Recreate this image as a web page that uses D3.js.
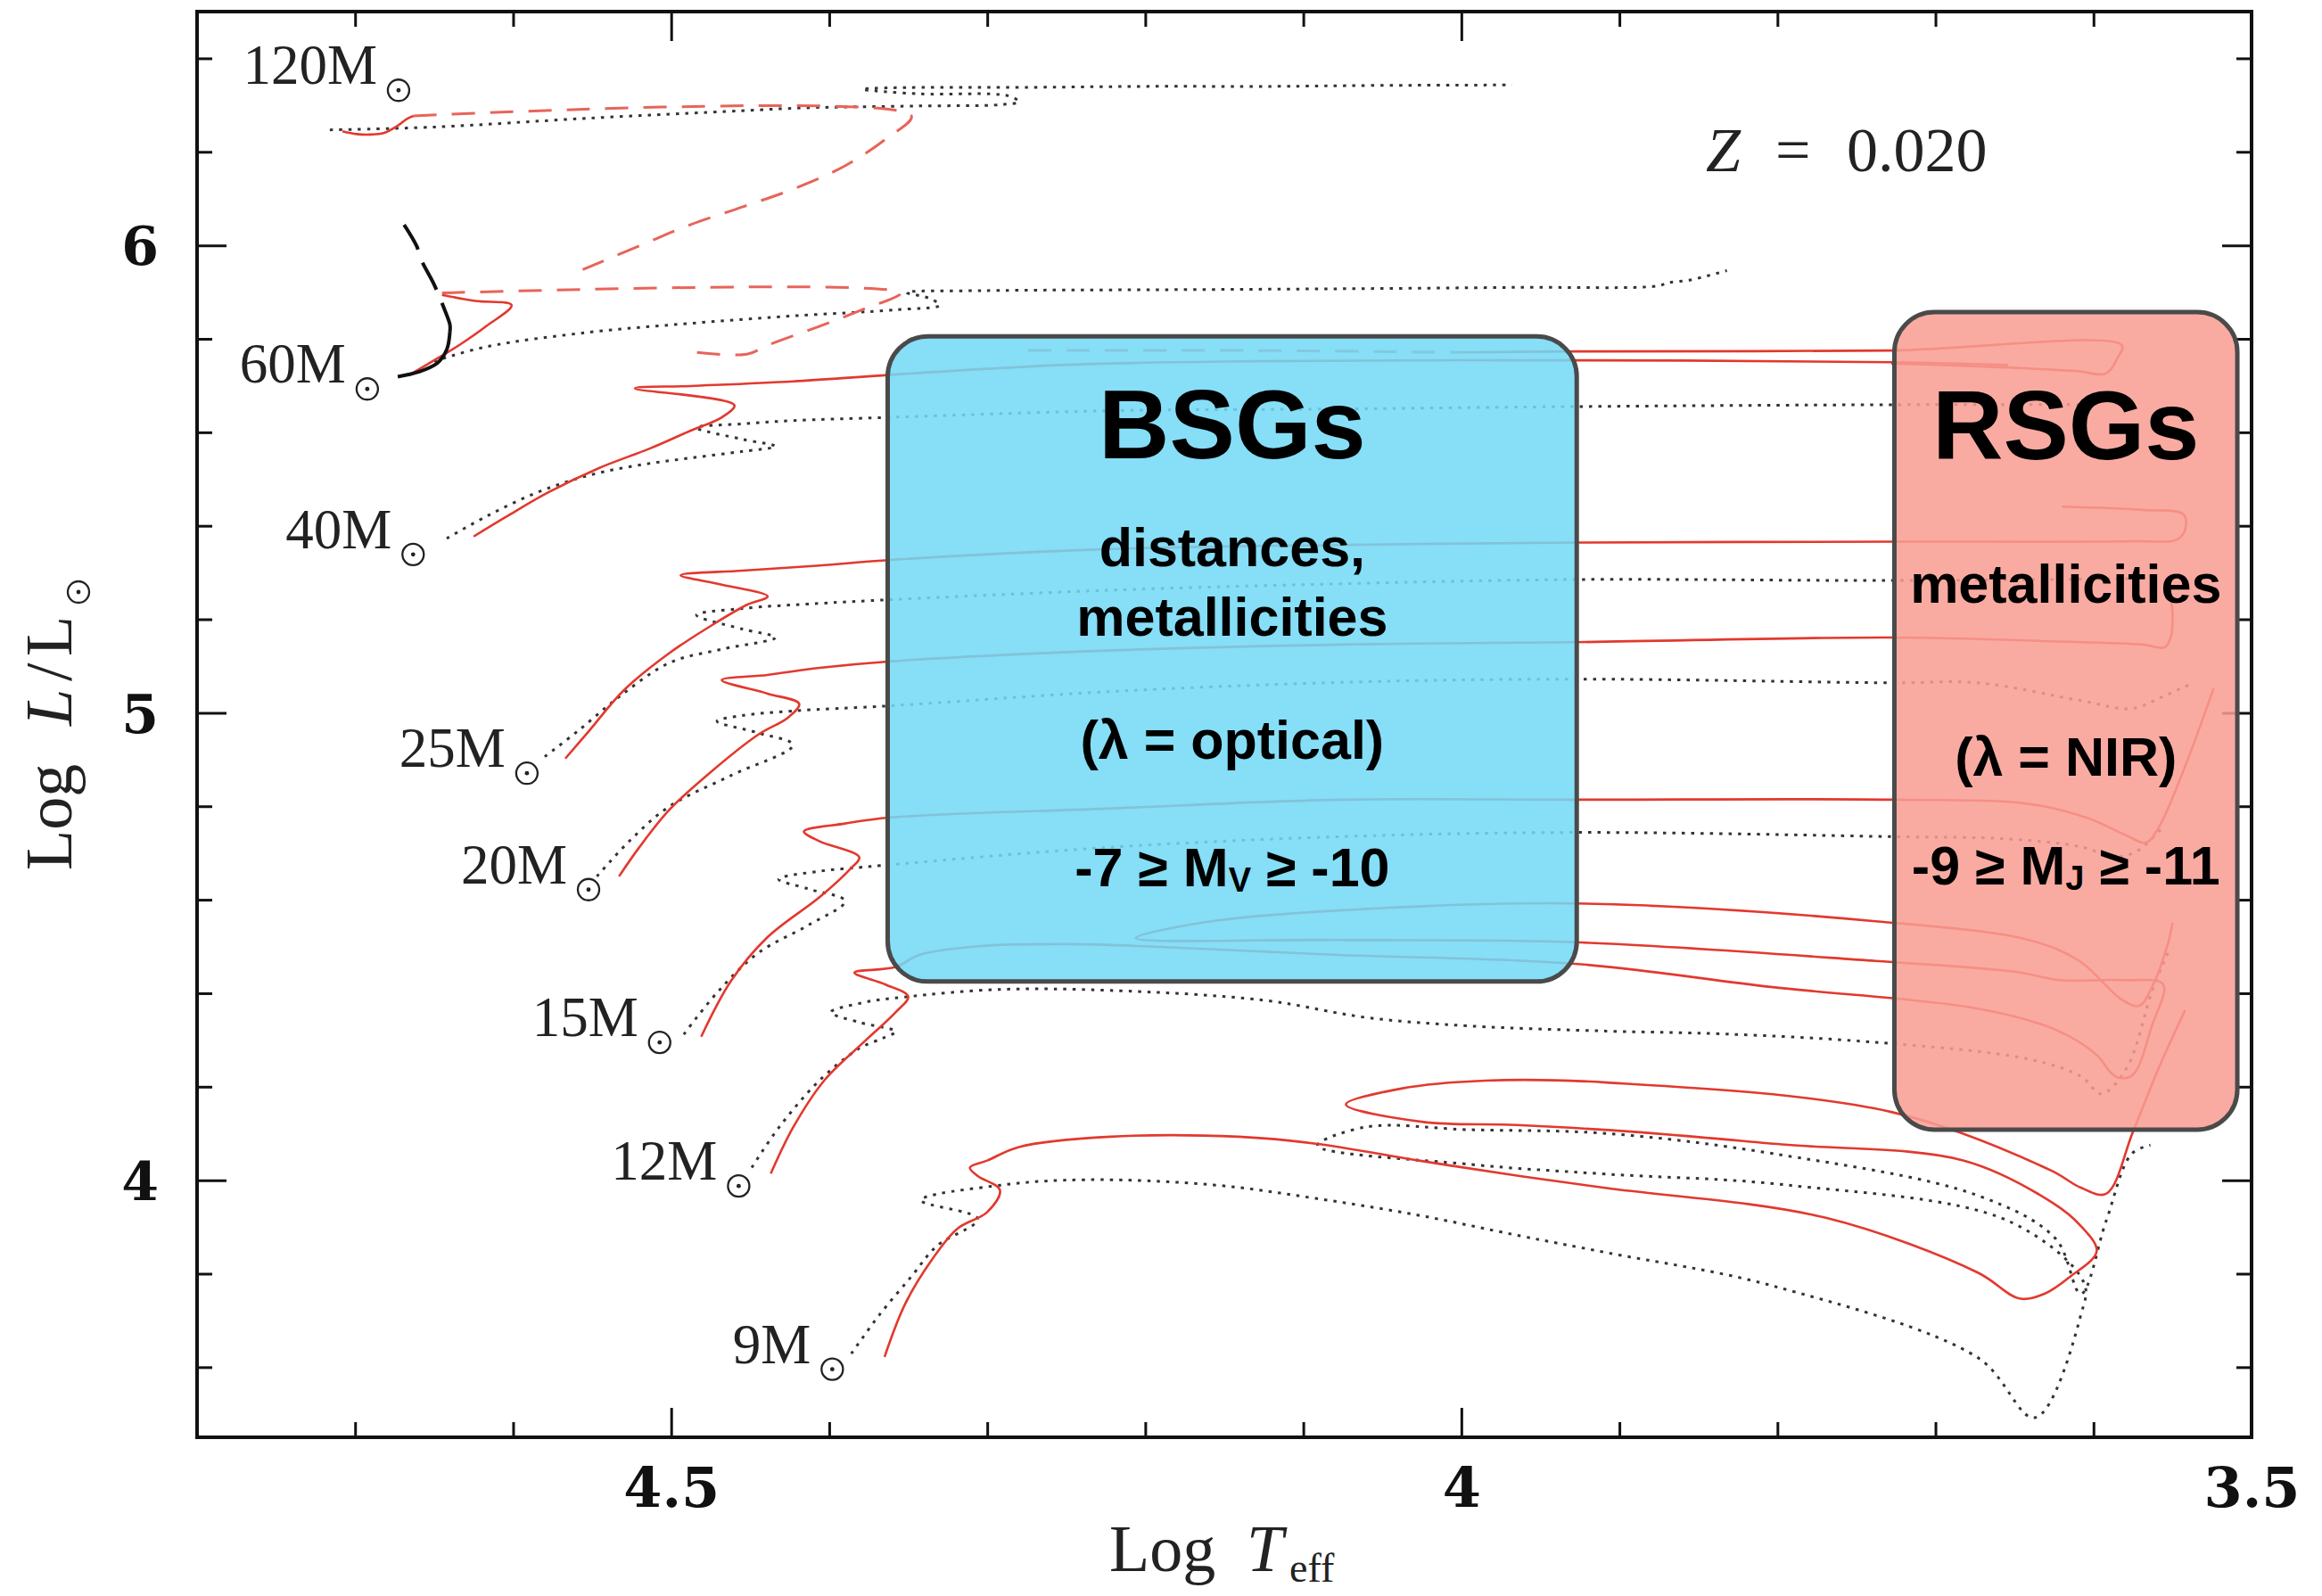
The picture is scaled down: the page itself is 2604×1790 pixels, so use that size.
<!DOCTYPE html>
<html>
<head>
<meta charset="utf-8">
<title>Evolutionary tracks of massive stars, Z = 0.020</title>
<script src="https://cdn.jsdelivr.net/npm/d3@7/dist/d3.min.js"></script>
<style>
  html, body { margin: 0; padding: 0; background: #ffffff; }
  svg { display: block; }
</style>
</head>
<body>
<svg id="hrd" width="2604" height="1790"></svg>
<script>
// ---------------- axis ticks ----------------
const xMajorTicks = [4.5, 4.0, 3.5];
const xMinorTicks = [4.7, 4.6, 4.4, 4.3, 4.2, 4.1, 3.9, 3.8, 3.7, 3.6];
const yMajorTicks = [4, 5, 6];
const yMinorTicks = [3.6, 3.8, 4.2, 4.4, 4.6, 4.8, 5.2, 5.4, 5.6, 5.8, 6.2, 6.4];

// ---------------- tracks: [log Teff, log L/Lsun] ----------------
// 120 Msun
const track120Zams = [[4.708,6.244],[4.699,6.238],[4.690,6.237],[4.682,6.240],[4.673,6.256],[4.667,6.271],[4.663,6.277]];
const track120Dashed = [[4.663,6.277],[4.348,6.277],[4.364,6.228],[4.390,6.170],[4.423,6.120],[4.455,6.082],[4.488,6.044],[4.520,5.999],[4.556,5.948]];
const track120Dotted = [[4.716,6.247],[4.650,6.253],[4.552,6.272],[4.455,6.288],[4.416,6.294],[4.345,6.298],[4.291,6.301],[4.280,6.307],[4.287,6.320],[4.343,6.324],[4.379,6.334],[4.360,6.337],[4.272,6.338],[4.200,6.340],[4.118,6.340],[4.056,6.342],[3.968,6.343]];

// 60 Msun
const track60Solid = [[4.666,5.722],[4.650,5.754],[4.633,5.789],[4.617,5.827],[4.601,5.872],[4.624,5.881],[4.645,5.894]];
const track60Dashed = [[4.645,5.898],[4.355,5.898],[4.377,5.865],[4.406,5.827],[4.439,5.786],[4.452,5.767],[4.484,5.771]];
const track60CoolDashed = [[4.274,5.775],[4.134,5.775],[4.002,5.771]];
const track60CoolSolid = [[4.002,5.771],[3.928,5.773],[3.728,5.775],[3.582,5.786],[3.585,5.758],[3.592,5.726],[3.611,5.731],[3.673,5.741],[3.728,5.747]];
const track60WRSolid = [[4.673,5.719],[4.660,5.729],[4.648,5.748],[4.642,5.777],[4.640,5.815]];
const track60WRDashed = [[4.640,5.815],[4.640,5.830],[4.643,5.859],[4.650,5.916],[4.658,5.968],[4.661,5.998],[4.669,6.044]];
const track60Dotted = [[4.650,5.752],[4.617,5.783],[4.552,5.814],[4.488,5.833],[4.423,5.849],[4.358,5.862],[4.330,5.872],[4.337,5.887],[4.351,5.899],[4.304,5.903],[4.191,5.905],[4.078,5.907],[3.965,5.910],[3.876,5.913],[3.869,5.920],[3.855,5.926],[3.832,5.946]];

// 40 Msun
const track40Solid = [[4.625,5.377],[4.604,5.420],[4.578,5.471],[4.546,5.523],[4.513,5.566],[4.488,5.603],[4.468,5.632],[4.460,5.658],[4.523,5.694],[4.488,5.699],[4.423,5.709],[4.361,5.723],[4.253,5.744],[4.134,5.752],[3.928,5.754],[3.728,5.750],[3.654,5.744]];
const track40Dotted = [[4.642,5.373],[4.617,5.420],[4.585,5.471],[4.552,5.508],[4.520,5.530],[4.488,5.545],[4.455,5.559],[4.434,5.570],[4.455,5.585],[4.484,5.610],[4.455,5.618],[4.423,5.625],[4.361,5.632],[4.224,5.646],[4.076,5.650],[3.928,5.655],[3.728,5.659],[3.602,5.659]];

// 25 Msun
const track25Solid = [[4.567,4.902],[4.552,4.961],[4.530,5.048],[4.501,5.128],[4.471,5.194],[4.452,5.231],[4.439,5.249],[4.468,5.274],[4.494,5.294],[4.455,5.304],[4.406,5.315],[4.361,5.327],[4.224,5.350],[4.076,5.359],[3.928,5.364],[3.728,5.366],[3.576,5.367],[3.547,5.371],[3.542,5.392],[3.543,5.424],[3.569,5.434],[3.620,5.441]];
const track25Dotted = [[4.580,4.906],[4.559,4.961],[4.533,5.034],[4.501,5.107],[4.468,5.136],[4.434,5.161],[4.455,5.179],[4.484,5.209],[4.455,5.223],[4.406,5.234],[4.361,5.242],[4.224,5.262],[4.076,5.276],[3.928,5.285],[3.728,5.283],[3.569,5.287]];

// 20 Msun
const track20Solid = [[4.533,4.650],[4.520,4.713],[4.501,4.793],[4.475,4.873],[4.445,4.953],[4.426,4.990],[4.419,5.019],[4.439,5.041],[4.468,5.070],[4.439,5.081],[4.406,5.096],[4.361,5.110],[4.224,5.133],[4.076,5.146],[3.928,5.151],[3.728,5.161],[3.626,5.153],[3.569,5.146],[3.555,5.140],[3.551,5.163],[3.550,5.210],[3.551,5.245]];
const track20Dotted = [[4.547,4.650],[4.526,4.727],[4.501,4.800],[4.462,4.866],[4.423,4.931],[4.445,4.957],[4.471,4.982],[4.455,4.994],[4.423,5.004],[4.361,5.015],[4.224,5.045],[4.076,5.065],[3.928,5.072],[3.728,5.064],[3.673,5.064],[3.608,5.026],[3.576,5.009],[3.556,5.035],[3.537,5.064]];

// 15 Msun
const track15Solid = [[4.481,4.307],[4.462,4.427],[4.439,4.520],[4.406,4.606],[4.387,4.665],[4.381,4.691],[4.406,4.725],[4.416,4.746],[4.390,4.763],[4.361,4.776],[4.224,4.795],[4.076,4.814],[3.928,4.814],[3.728,4.814],[3.641,4.805],[3.604,4.775],[3.579,4.737],[3.567,4.722],[3.559,4.753],[3.542,4.886],[3.524,5.052]];
const track15Dotted = [[4.492,4.312],[4.471,4.401],[4.445,4.486],[4.413,4.546],[4.390,4.597],[4.413,4.623],[4.432,4.644],[4.406,4.661],[4.381,4.669],[4.361,4.675],[4.224,4.712],[4.076,4.735],[3.928,4.744],[3.728,4.735],[3.654,4.730],[3.609,4.714],[3.586,4.692],[3.572,4.705],[3.556,4.756]];

// 12 Msun
const track12Solid = [[4.437,4.014],[4.423,4.112],[4.403,4.214],[4.377,4.299],[4.358,4.359],[4.350,4.393],[4.364,4.418],[4.384,4.444],[4.358,4.456],[4.343,4.482],[4.304,4.501],[4.247,4.505],[4.191,4.499],[4.078,4.482],[3.928,4.463],[3.803,4.413],[3.673,4.367],[3.624,4.322],[3.598,4.268],[3.589,4.230],[3.584,4.219],[3.575,4.226],[3.563,4.331],[3.556,4.419],[3.581,4.428],[3.621,4.428],[3.650,4.446],[3.738,4.469],[3.928,4.509],[4.078,4.514],[4.206,4.518],[4.162,4.552],[4.078,4.577],[3.928,4.592],[3.738,4.554],[3.641,4.514],[3.609,4.469],[3.582,4.386],[3.571,4.373],[3.563,4.413],[3.553,4.505],[3.550,4.550]];
const track12Dotted = [[4.449,4.027],[4.432,4.112],[4.406,4.214],[4.381,4.282],[4.366,4.304],[4.358,4.318],[4.380,4.337],[4.399,4.359],[4.377,4.381],[4.352,4.392],[4.293,4.408],[4.222,4.406],[4.125,4.385],[4.060,4.348],[3.995,4.330],[3.908,4.319],[3.835,4.313],[3.738,4.295],[3.641,4.259],[3.608,4.222],[3.595,4.185],[3.579,4.240],[3.563,4.404],[3.553,4.486]];

// 9 Msun
const track9Solid = [[4.365,3.622],[4.352,3.735],[4.335,3.830],[4.319,3.896],[4.300,3.932],[4.292,3.979],[4.306,4.009],[4.311,4.027],[4.300,4.042],[4.280,4.071],[4.222,4.093],[4.141,4.093],[4.092,4.078],[4.027,4.042],[3.963,4.009],[3.908,3.983],[3.770,3.920],[3.673,3.802],[3.647,3.747],[3.631,3.757],[3.615,3.793],[3.598,3.848],[3.608,3.902],[3.626,3.952],[3.682,4.042],[3.795,4.076],[3.893,4.104],[3.965,4.118],[4.025,4.125],[4.073,4.162],[4.038,4.196],[3.985,4.213],[3.908,4.209],[3.728,4.146],[3.627,4.021],[3.608,3.984],[3.592,3.971],[3.575,4.104],[3.559,4.238],[3.542,4.364]];
const track9Dotted = [[4.386,3.629],[4.368,3.713],[4.348,3.794],[4.332,3.859],[4.306,3.917],[4.342,3.957],[4.290,3.990],[4.238,4.001],[4.157,3.990],[4.092,3.961],[4.027,3.925],[3.963,3.881],[3.908,3.845],[3.803,3.774],[3.673,3.620],[3.637,3.492],[3.608,3.712],[3.606,3.780],[3.654,3.913],[3.795,3.990],[3.908,4.013],[3.995,4.034],[4.091,4.074],[4.060,4.114],[3.995,4.108],[3.908,4.100],[3.803,4.057],[3.673,3.967],[3.624,3.875],[3.608,3.757],[3.592,3.913],[3.576,4.056],[3.564,4.075]];

// ---------------- labels ----------------
const massLabels = ["120", "60", "40", "25", "20", "15", "12", "9"];
const massLabelAnchors = [[4.771,6.345],[4.773,5.706],[4.744,5.352],[4.672,4.884],[4.633,4.635],[4.588,4.308],[4.538,4.001],[4.461,3.609]];
const metallicityLabel = ["Z", "=", "0.020"];

// highlighted supergiant regions, in data units
const bsgRegion = {tHot: 4.363, tCool: 3.927, lLow: 4.425, lHigh: 5.805};
const rsgRegion = {tHot: 3.726, tCool: 3.509, lLow: 4.108, lHigh: 5.857};
const bsgLines = ["BSGs", "distances,", "metallicities", "(λ = optical)", ["-7 ≥ M", "V", " ≥ -10"]];
const rsgLines = ["RSGs", "metallicities", "(λ = NIR)", ["-9 ≥ M", "J", " ≥ -11"]];

// ---------------- drawing ----------------
const svg = d3.select("#hrd");
const plot = {left: 221, right: 2525, top: 13, bottom: 1612};

const x = d3.scaleLinear().domain([4.8, 3.5]).range([plot.left, plot.right]);
const y = d3.scaleLinear().domain([3.45, 6.5]).range([plot.bottom, plot.top]);

svg.append("defs").append("clipPath").attr("id", "plotClip")
  .append("rect")
  .attr("x", plot.left).attr("y", plot.top)
  .attr("width", plot.right - plot.left).attr("height", plot.bottom - plot.top);

const styles = {
  rot:     {stroke: "#e2392e", width: 2.6, dash: null},
  rotDash: {stroke: "#e8645a", width: 3.0, dash: "26,17"},
  norot:   {stroke: "#333333", width: 3.0, dash: "3.5,7"},
  wr:      {stroke: "#111111", width: 4.0, dash: null},
  wrDash:  {stroke: "#111111", width: 4.0, dash: "34,16"}
};

const trackList = [
  [track120Dotted, "norot"], [track60Dotted, "norot"], [track40Dotted, "norot"],
  [track25Dotted, "norot"], [track20Dotted, "norot"], [track15Dotted, "norot"],
  [track12Dotted, "norot"], [track9Dotted, "norot"],
  [track120Zams, "rot"], [track120Dashed, "rotDash"],
  [track60Solid, "rot"], [track60Dashed, "rotDash"],
  [track60CoolDashed, "rotDash"], [track60CoolSolid, "rot"],
  [track40Solid, "rot"], [track25Solid, "rot"], [track20Solid, "rot"],
  [track15Solid, "rot"], [track12Solid, "rot"], [track9Solid, "rot"],
  [track60WRSolid, "wr"], [track60WRDashed, "wrDash"]
];

const line = d3.line()
  .x(d => x(d[0]))
  .y(d => y(d[1]))
  .curve(d3.curveCatmullRom.alpha(0.5));

const trackLayer = svg.append("g").attr("clip-path", "url(#plotClip)");
trackList.forEach(([pts, key]) => {
  const s = styles[key];
  trackLayer.append("path")
    .datum(pts)
    .attr("d", line)
    .attr("fill", "none")
    .attr("stroke", s.stroke)
    .attr("stroke-width", s.width)
    .attr("stroke-dasharray", s.dash)
    .attr("stroke-linejoin", "round");
});

// ---- axes (ticks point inward on all four sides) ----
function styleAxis(g) {
  g.select(".domain").remove();
  g.selectAll(".tick line").attr("stroke", "#111").attr("stroke-width", 3);
}
const fmt = d => String(+d.toFixed(1));
const tickFont = "'DejaVu Serif', serif";

const bottomAxis = svg.append("g").attr("transform", `translate(0,${plot.bottom})`)
  .call(d3.axisBottom(x).tickValues(xMajorTicks).tickSize(-33).tickFormat(fmt));
styleAxis(bottomAxis);
bottomAxis.selectAll(".tick text")
  .attr("y", 78).attr("dy", 0)
  .attr("font-family", tickFont).attr("font-weight", "bold")
  .attr("font-size", 62).attr("fill", "#111");
svg.append("g").attr("transform", `translate(0,${plot.bottom})`)
  .call(d3.axisBottom(x).tickValues(xMinorTicks).tickSize(-17).tickFormat("")).call(styleAxis);

svg.append("g").attr("transform", `translate(0,${plot.top})`)
  .call(d3.axisTop(x).tickValues(xMajorTicks).tickSize(-33).tickFormat("")).call(styleAxis);
svg.append("g").attr("transform", `translate(0,${plot.top})`)
  .call(d3.axisTop(x).tickValues(xMinorTicks).tickSize(-17).tickFormat("")).call(styleAxis);

const leftAxis = svg.append("g").attr("transform", `translate(${plot.left},0)`)
  .call(d3.axisLeft(y).tickValues(yMajorTicks).tickSize(-33).tickFormat(fmt));
styleAxis(leftAxis);
leftAxis.selectAll(".tick text")
  .attr("x", -(plot.left - 157)).attr("dy", "0.36em").attr("text-anchor", "middle")
  .attr("font-family", tickFont).attr("font-weight", "bold")
  .attr("font-size", 60).attr("fill", "#111");
svg.append("g").attr("transform", `translate(${plot.left},0)`)
  .call(d3.axisLeft(y).tickValues(yMinorTicks).tickSize(-17).tickFormat("")).call(styleAxis);

svg.append("g").attr("transform", `translate(${plot.right},0)`)
  .call(d3.axisRight(y).tickValues(yMajorTicks).tickSize(-33).tickFormat("")).call(styleAxis);
svg.append("g").attr("transform", `translate(${plot.right},0)`)
  .call(d3.axisRight(y).tickValues(yMinorTicks).tickSize(-17).tickFormat("")).call(styleAxis);

svg.append("rect")
  .attr("x", plot.left).attr("y", plot.top)
  .attr("width", plot.right - plot.left).attr("height", plot.bottom - plot.top)
  .attr("fill", "none").attr("stroke", "#111").attr("stroke-width", 4);

// ---- solar symbol ----
function sunSymbol(g, cx, cy, r) {
  g.append("circle").attr("cx", cx).attr("cy", cy).attr("r", r)
    .attr("fill", "none").attr("stroke", "#222").attr("stroke-width", 2.3);
  g.append("circle").attr("cx", cx).attr("cy", cy).attr("r", 2.4).attr("fill", "#222");
}

const serif = "'Liberation Serif', 'Times New Roman', serif";

// ---- mass labels ----
const labelLayer = svg.append("g");
massLabels.forEach((m, i) => {
  const [t, l] = massLabelAnchors[i];
  const tx = x(t), ty = y(l);
  const txt = labelLayer.append("text")
    .attr("x", tx).attr("y", ty)
    .attr("font-family", serif).attr("font-size", 63).attr("fill", "#222")
    .text(m + "M");
  const w = txt.node().getComputedTextLength();
  sunSymbol(labelLayer, tx + w + 24, ty + 7, 12);
});

// ---- metallicity label ----
const zg = svg.append("g").attr("font-family", serif).attr("font-size", 70).attr("fill", "#222");
zg.append("text").attr("x", 1913).attr("y", 192).attr("font-style", "italic").text(metallicityLabel[0]);
zg.append("text").attr("x", 1991).attr("y", 192).text(metallicityLabel[1]);
zg.append("text").attr("x", 2071).attr("y", 192).text(metallicityLabel[2]);

// ---- axis titles ----
const xt = svg.append("g").attr("font-family", serif).attr("fill", "#222");
xt.append("text").attr("x", 1244).attr("y", 1762).attr("font-size", 74).text("Log");
xt.append("text").attr("x", 1398).attr("y", 1762).attr("font-size", 74).attr("font-style", "italic").text("T");
xt.append("text").attr("x", 1446).attr("y", 1774).attr("font-size", 46).text("eff");

const yt = svg.append("g").attr("transform", "translate(80,976) rotate(-90)")
  .attr("font-family", serif).attr("fill", "#222");
yt.append("text").attr("x", 0).attr("y", 0).attr("font-size", 74).text("Log");
yt.append("text").attr("x", 162).attr("y", 0).attr("font-size", 74).attr("font-style", "italic").text("L");
yt.append("text").attr("x", 212).attr("y", 0).attr("font-size", 74).text("/");
yt.append("text").attr("x", 240).attr("y", 0).attr("font-size", 74).text("L");
sunSymbol(yt, 312, 8, 12);

// ---- supergiant regions ----
const sans = "'Liberation Sans', Arial, Helvetica, sans-serif";
function region(reg, fill, lines, offsets) {
  const x0 = x(reg.tHot), x1 = x(reg.tCool), y0 = y(reg.lHigh), y1 = y(reg.lLow);
  svg.append("rect")
    .attr("x", x0).attr("y", y0).attr("width", x1 - x0).attr("height", y1 - y0)
    .attr("rx", 45).attr("ry", 45)
    .attr("fill", fill).attr("fill-opacity", 0.86)
    .attr("stroke", "#4a4a4a").attr("stroke-width", 5);
  const cx = (x0 + x1) / 2;
  lines.forEach((ln, i) => {
    const t = svg.append("text")
      .attr("x", cx).attr("y", y0 + offsets[i])
      .attr("text-anchor", "middle")
      .attr("font-family", sans).attr("font-weight", "bold")
      .attr("font-size", i === 0 ? 110 : 61).attr("fill", "#000");
    if (Array.isArray(ln)) {
      t.append("tspan").text(ln[0]);
      t.append("tspan").attr("font-size", 38).attr("dy", 6).text(ln[1]);
      t.append("tspan").attr("dy", -6).text(ln[2]);
    } else {
      t.text(ln);
    }
  });
}
region(bsgRegion, "#72d8f6", bsgLines, [137, 258, 336, 474, 617]);
region(rsgRegion, "#f89d93", rsgLines, [165, 326, 520, 642]);
</script>
</body>
</html>
